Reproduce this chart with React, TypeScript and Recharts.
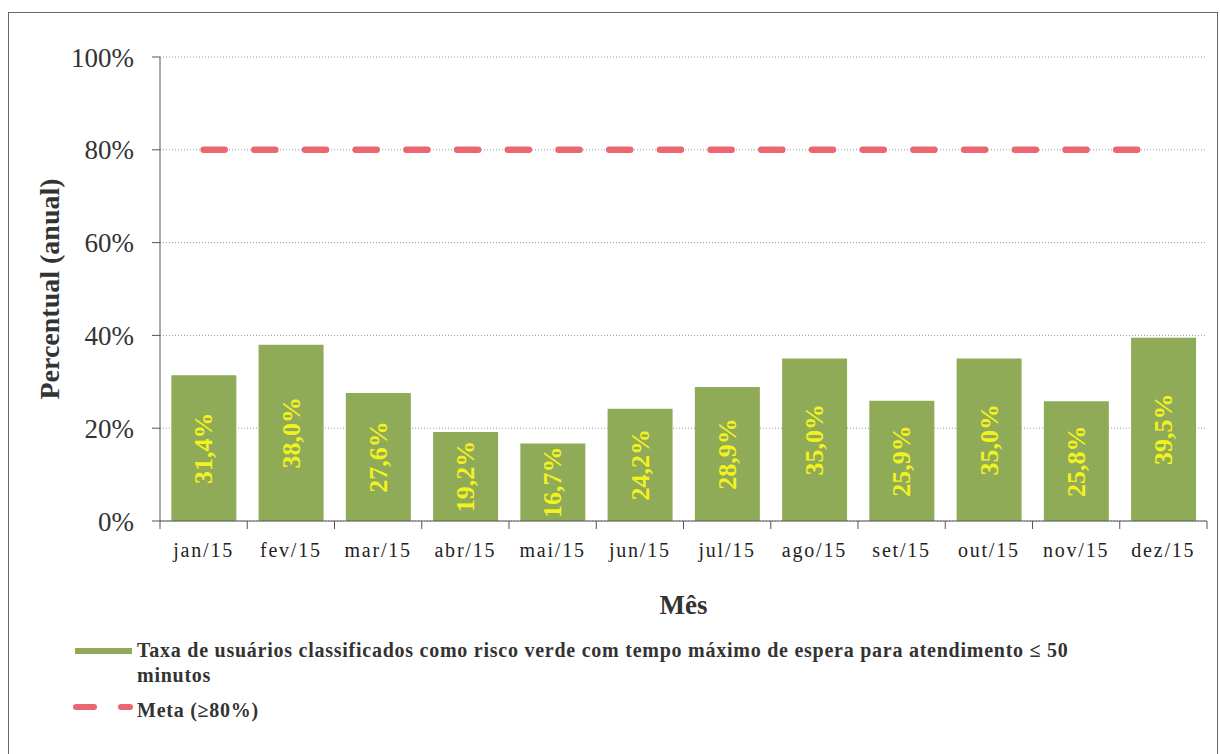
import { ComposedChart, Bar, Line, XAxis, YAxis, CartesianGrid, LabelList, Legend } from 'recharts';

const months = ['jan/15', 'fev/15', 'mar/15', 'abr/15', 'mai/15', 'jun/15', 'jul/15', 'ago/15', 'set/15', 'out/15', 'nov/15', 'dez/15'];
const taxaVerde = [31.4, 38.0, 27.6, 19.2, 16.7, 24.2, 28.9, 35.0, 25.9, 35.0, 25.8, 39.5];
const metaValues = [80, 80, 80, 80, 80, 80, 80, 80, 80, 80, 80, 80];
const yTicks = [0, 20, 40, 60, 80, 100];

const data = months.map((mes, i) => ({ mes, taxa: taxaVerde[i], meta: metaValues[i] }));

const SERIF = '"Liberation Serif", "Times New Roman", serif';
const GREEN = '#8fab58';
const RED = '#ea6670';
const PLOT_W = 1047;
const BAND = PLOT_W / months.length;
const legendOrder = ['taxa', 'meta'];

function MonthTick({ x, y, payload, index }: any) {
  const left = x - BAND / 2;
  return (
    <g>
      <line x1={left} y1={y} x2={left} y2={y + 8} stroke="#555" />
      {index === months.length - 1 && <line x1={x + BAND / 2} y1={y} x2={x + BAND / 2} y2={y + 8} stroke="#555" />}
      <text x={x} y={y + 36} textAnchor="middle" fontSize={20} letterSpacing={1.8} fill="#222" fontFamily={SERIF}>
        {payload.value}
      </text>
    </g>
  );
}

function BarValue({ x, y, width, height, value }: any) {
  const cx = x + width / 2;
  const cy = y + height / 2;
  return (
    <text
      x={cx}
      y={cy}
      transform={`rotate(-90 ${cx} ${cy})`}
      textAnchor="middle"
      dominantBaseline="central"
      fill="#f4f21e"
      fontSize={26}
      fontWeight="bold"
      fontFamily={SERIF}
    >
      {Number(value).toFixed(1).replace('.', ',')}%
    </text>
  );
}

function LegendBox({ payload }: any) {
  const items = [...(payload || [])].sort((a: any, b: any) => legendOrder.indexOf(a.dataKey) - legendOrder.indexOf(b.dataKey));
  return (
    <div style={{ fontFamily: SERIF, fontWeight: 'bold', fontSize: 20, color: '#333', letterSpacing: 0.75, lineHeight: '25px' }}>
      {items.map((entry: any) => (
        <div key={entry.dataKey} style={{ display: 'flex', alignItems: 'flex-start', marginBottom: 10 }}>
          <div style={{ width: 68, flex: 'none', position: 'relative', height: 25 }}>
            {entry.dataKey === 'taxa' ? (
              <div style={{ position: 'absolute', left: 6, top: 10, width: 57, height: 6, background: entry.color }} />
            ) : (
              <svg width={68} height={20} style={{ position: 'absolute', left: 0, top: 0 }}>
                <line x1={7} y1={9} x2={61} y2={9} stroke={entry.color} strokeWidth={6} strokeDasharray="18 27" strokeLinecap="round" />
              </svg>
            )}
          </div>
          <div style={{ width: 940 }}>{entry.value}</div>
        </div>
      ))}
    </div>
  );
}

export default function App() {
  return (
    <div style={{ position: 'absolute', left: 8, top: 12, width: 1208, height: 760, border: '1px solid #666', background: '#fff' }}>
      <ComposedChart width={1208} height={741} data={data} margin={{ top: 44, right: 10, left: 0, bottom: 133 }} barCategoryGap="13%">
        <CartesianGrid vertical={false} strokeDasharray="1 2" stroke="#999" />
        <XAxis
          dataKey="mes"
          height={100}
          interval={0}
          tickLine={false}
          tickSize={0}
          tickMargin={0}
          tick={<MonthTick />}
          axisLine={{ stroke: '#555' }}
          label={({ viewBox }: any) => (
            <text x={viewBox.x + viewBox.width / 2} y={601} textAnchor="middle" fontSize={27} fontWeight="bold" fill="#333" fontFamily={SERIF}>
              Mês
            </text>
          )}
        />
        <YAxis
          type="number"
          domain={[0, 100]}
          ticks={yTicks}
          width={151}
          tickSize={8}
          tickMargin={18}
          tickFormatter={(v: number) => `${v}%`}
          tick={{ fontSize: 27, fill: '#333', fontFamily: SERIF }}
          axisLine={{ stroke: '#555' }}
          tickLine={{ stroke: '#555' }}
          label={({ viewBox }: any) => {
            const cx = 40;
            const cy = viewBox.y + viewBox.height / 2;
            return (
              <text
                x={cx}
                y={cy}
                transform={`rotate(-90 ${cx} ${cy})`}
                textAnchor="middle"
                dominantBaseline="central"
                fontSize={28}
                fontWeight="bold"
                fill="#333"
                fontFamily={SERIF}
              >
                Percentual (anual)
              </text>
            );
          }}
        />
        <Bar
          dataKey="taxa"
          name="Taxa de usuários classificados como risco verde com tempo máximo de espera para atendimento ≤ 50 minutos"
          fill={GREEN}
          isAnimationActive={false}
        >
          <LabelList dataKey="taxa" content={<BarValue />} />
        </Bar>
        <Line
          type="linear"
          dataKey="meta"
          name="Meta (≥80%)"
          stroke={RED}
          strokeWidth={6.5}
          strokeDasharray="21 29.7"
          strokeLinecap="round"
          dot={false}
          activeDot={false}
          isAnimationActive={false}
        />
        <Legend
          layout="horizontal"
          verticalAlign="middle"
          align="center"
          content={<LegendBox />}
          wrapperStyle={{ top: 625, left: 60, width: 1100, height: 'auto' }}
        />
      </ComposedChart>
    </div>
  );
}
